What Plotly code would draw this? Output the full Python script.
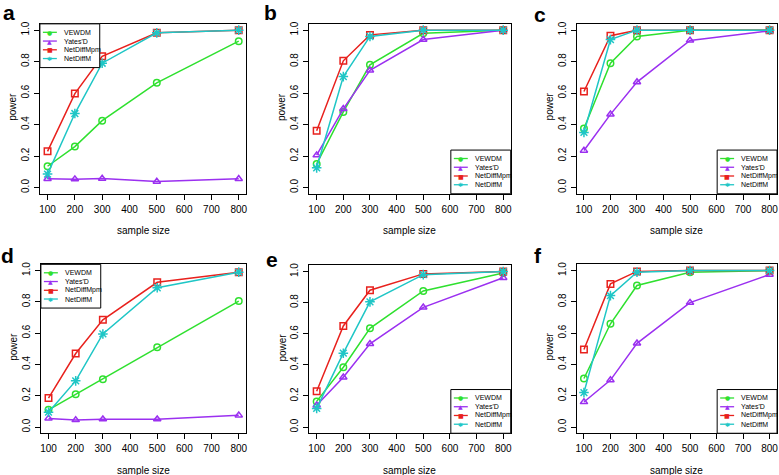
import plotly.graph_objects as go

# sample sizes on the x axis, one list per method with one row per panel (a..f)
sample_size = [100, 200, 300, 500, 800]
panel_labels = ["a", "b", "c", "d", "e", "f"]
method_names = ["VEWDM", "Yates'D", "NetDiffMpm", "NetDiffM"]

vewdm = [
    [0.135, 0.26, 0.425, 0.665, 0.93],
    [0.15, 0.48, 0.78, 0.98, 1.0],
    [0.375, 0.79, 0.96, 1.0, 1.0],
    [0.11, 0.21, 0.305, 0.51, 0.805],
    [0.165, 0.385, 0.635, 0.875, 0.99],
    [0.31, 0.66, 0.905, 0.99, 1.0],
]
yates_d = [
    [0.055, 0.053, 0.057, 0.038, 0.055],
    [0.205, 0.50, 0.745, 0.94, 1.0],
    [0.235, 0.465, 0.67, 0.935, 0.995],
    [0.055, 0.045, 0.05, 0.05, 0.075],
    [0.14, 0.32, 0.535, 0.77, 0.96],
    [0.16, 0.30, 0.535, 0.795, 0.975],
]
netdiff_mpm = [
    [0.23, 0.597, 0.834, 0.983, 1.0],
    [0.36, 0.805, 0.97, 1.0, 1.0],
    [0.61, 0.965, 1.0, 1.0, 1.0],
    [0.185, 0.47, 0.685, 0.925, 0.99],
    [0.23, 0.65, 0.88, 0.985, 1.0],
    [0.495, 0.915, 0.995, 1.0, 1.0],
]
netdiff_m = [
    [0.085, 0.47, 0.79, 0.983, 1.0],
    [0.125, 0.705, 0.96, 1.0, 1.0],
    [0.35, 0.94, 1.0, 1.0, 1.0],
    [0.095, 0.295, 0.595, 0.89, 0.99],
    [0.12, 0.475, 0.805, 0.98, 1.0],
    [0.22, 0.84, 0.99, 1.0, 1.0],
]

W, H = 779, 475
FONT = "Liberation Sans, Arial, sans-serif"
colors = ["#2fe02f", "#9b30f0", "#e8211d", "#1fc6c6"]
symbols = ["circle-open", "triangle-up-open", "square-open", "asterisk-open"]
legend_glyphs = ["●", "▲", "■", "✱"]
series = [vewdm, yates_d, netdiff_mpm, netdiff_m]

# plot boxes in pixels: (left, right, top, bottom), legend corner
boxes = [
    (39, 246, 21, 192, "tl"),
    (309, 511, 21, 192, "br"),
    (577, 778, 21, 192, "br"),
    (40, 246, 263, 433, "tl"),
    (309, 511, 264, 433, "br"),
    (577, 778, 263, 433, "br"),
]
letter_pos = [(8, 10), (270, 10), (540, 12), (7, 254), (272, 258), (538, 254)]


def px(x):
    return x / W


def py(y):
    return 1 - y / H


def note(x, y, text, size, **kw):
    d = dict(x=px(x), y=py(y), xref="paper", yref="paper", text=text,
             showarrow=False, xanchor="center", yanchor="middle",
             font=dict(family=FONT, size=size, color="black"))
    d.update(kw)
    return d


fig = go.Figure()
shapes = []
annotations = []

for i, (x0, x1, y0, y1, corner) in enumerate(boxes):
    n = "" if i == 0 else str(i + 1)
    for k in range(4):
        fig.add_trace(go.Scatter(
            x=sample_size, y=series[k][i], mode="lines+markers",
            xaxis="x" + n, yaxis="y" + n, showlegend=False,
            line=dict(color=colors[k], width=1.5),
            marker=dict(symbol=symbols[k], size=6.5 if k != 3 else 8,
                        color=colors[k], line=dict(color=colors[k], width=1.5)),
        ))

    axis_common = dict(
        showline=True, mirror=True, linecolor="black", linewidth=1,
        ticks="outside", ticklen=5, tickcolor="black", tickwidth=1,
        showgrid=False, zeroline=False,
        tickfont=dict(family=FONT, size=10, color="black"),
    )
    fig.update_layout({
        "xaxis" + n: dict(axis_common, domain=[px(x0), px(x1)], anchor="y" + n,
                          range=[72, 828], tickvals=list(range(100, 801, 100)),
                          ticklabelstandoff=1),
        "yaxis" + n: dict(axis_common, domain=[py(y1), py(y0)], anchor="x" + n,
                          range=[-0.04, 1.04], tickvals=[0, 0.2, 0.4, 0.6, 0.8, 1.0],
                          tickformat=".1f", tickangle=-90, ticklabelstandoff=1),
    })

    cx = (x0 + x1) / 2
    cy = (y0 + y1) / 2
    annotations.append(note(cx, y1 + 37, "sample size", 10))
    annotations.append(note(x0 - 27, cy - 2, "power", 10, textangle=-90))
    lx, ly = letter_pos[i]
    annotations.append(note(lx, ly, "<b>%s</b>" % panel_labels[i], 21))

    # legend box
    lw, lh = 60, 44
    if corner == "tl":
        bx0, by0 = x0, y0
    else:
        bx0, by0 = x1 - lw, y1 - lh
    shapes.append(dict(type="rect", xref="paper", yref="paper",
                       x0=px(bx0), x1=px(bx0 + lw), y0=py(by0 + lh), y1=py(by0),
                       line=dict(color="black", width=1), fillcolor="white"))
    for k in range(4):
        ry = by0 + 8.5 + 8.8 * k
        shapes.append(dict(type="line", xref="paper", yref="paper",
                           x0=px(bx0 + 3), x1=px(bx0 + 17), y0=py(ry), y1=py(ry),
                           line=dict(color=colors[k], width=1.3)))
        annotations.append(note(bx0 + 10, ry, legend_glyphs[k], 6,
                                font=dict(family="DejaVu Sans", size=6, color=colors[k])))
        annotations.append(note(bx0 + 22, ry, method_names[k], 7, xanchor="left"))

fig.update_layout(
    width=W, height=H,
    margin=dict(l=0, r=0, t=0, b=0),
    paper_bgcolor="white", plot_bgcolor="white",
    shapes=shapes, annotations=annotations,
)

fig.write_html("out.html", config={"displayModeBar": False},
               post_script="document.body.style.margin='0';")
